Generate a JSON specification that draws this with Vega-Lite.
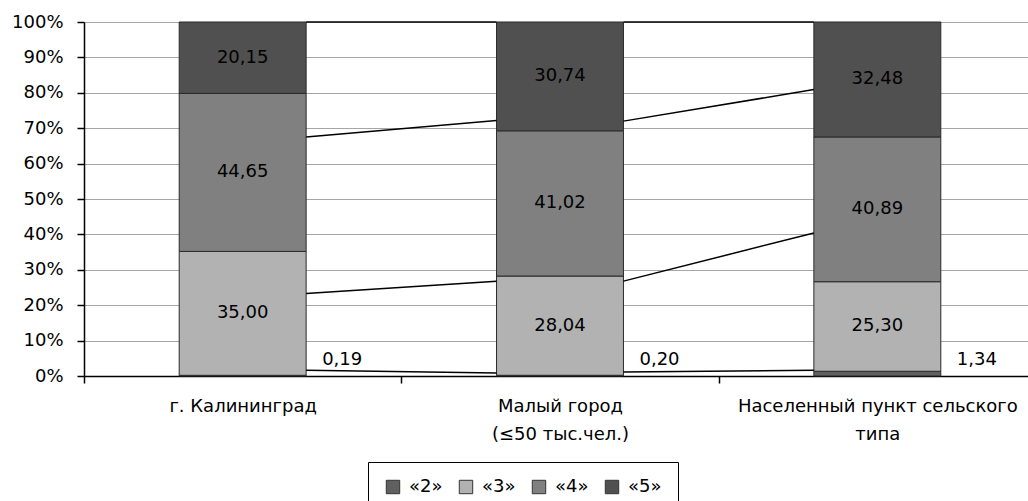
{
  "$schema": "https://vega.github.io/schema/vega-lite/v6.json",
  "autosize": {"type": "none"},
  "padding": {"left": 84, "top": 22, "right": 0, "bottom": 125},
  "width": 944,
  "height": 354,
  "background": "white",
  "config": {
    "locale": {"number": {"decimal": ",", "thousands": " ", "grouping": [3], "currency": ["", " ₽"]}},
    "view": {"stroke": null},
    "font": "DejaVu Sans",
    "axis": {"labelFont": "DejaVu Sans", "labelFontSize": 18, "labelColor": "#000", "domainColor": "#000", "domainWidth": 1.5, "tickColor": "#000", "tickWidth": 1.5, "tickSize": 7, "title": null, "labelOverlap": false, "labelLimit": 0},
    "axisY": {"tickCount": 20, "labelOverlap": false, "grid": true, "gridColor": "#a6a6a6", "gridWidth": 1, "labelPadding": 14, "format": ".0%"},
    "legend": {"labelFont": "DejaVu Sans", "labelFontSize": 18, "labelColor": "#000", "labelLimit": 0}
  },
  "datasets": {
    "main": [
      {"cat": "г. Калининград", "series": "«2»", "value": 0.19},
      {"cat": "г. Калининград", "series": "«3»", "value": 35.00},
      {"cat": "г. Калининград", "series": "«4»", "value": 44.65},
      {"cat": "г. Калининград", "series": "«5»", "value": 20.15},
      {"cat": "Малый город (≤50 тыс.чел.)", "series": "«2»", "value": 0.20},
      {"cat": "Малый город (≤50 тыс.чел.)", "series": "«3»", "value": 28.04},
      {"cat": "Малый город (≤50 тыс.чел.)", "series": "«4»", "value": 41.02},
      {"cat": "Малый город (≤50 тыс.чел.)", "series": "«5»", "value": 30.74},
      {"cat": "Населенный пункт сельского типа", "series": "«2»", "value": 1.34},
      {"cat": "Населенный пункт сельского типа", "series": "«3»", "value": 25.30},
      {"cat": "Населенный пункт сельского типа", "series": "«4»", "value": 40.89},
      {"cat": "Населенный пункт сельского типа", "series": "«5»", "value": 32.48}
    ],
    "lines": [
      {"from": "г. Калининград", "to": "Малый город (≤50 тыс.чел.)", "y_from": 1.0, "y_to": 1.0},
      {"from": "Малый город (≤50 тыс.чел.)", "to": "Населенный пункт сельского типа", "y_from": 1.0, "y_to": 1.0},
      {"from": "г. Калининград", "to": "Малый город (≤50 тыс.чел.)", "y_from": 0.675, "y_to": 0.722},
      {"from": "Малый город (≤50 тыс.чел.)", "to": "Населенный пункт сельского типа", "y_from": 0.720, "y_to": 0.809},
      {"from": "г. Калининград", "to": "Малый город (≤50 тыс.чел.)", "y_from": 0.233, "y_to": 0.268},
      {"from": "Малый город (≤50 тыс.чел.)", "to": "Населенный пункт сельского типа", "y_from": 0.268, "y_to": 0.404},
      {"from": "г. Калининград", "to": "Малый город (≤50 тыс.чел.)", "y_from": 0.016, "y_to": 0.0085},
      {"from": "Малый город (≤50 тыс.чел.)", "to": "Населенный пункт сельского типа", "y_from": 0.011, "y_to": 0.016}
    ]
  },
  "layer": [
    {
      "data": {"name": "main"},
      "transform": [
        {"stack": "value", "groupby": ["cat"], "sort": [{"field": "series", "order": "ascending"}], "offset": "normalize", "as": ["y0", "y1"]}
      ],
      "mark": {"type": "bar", "width": {"band": 0.4}, "stroke": "#2a2a2a", "strokeWidth": 1},
      "encoding": {
        "x": {
          "field": "cat", "type": "nominal",
          "scale": {"domain": ["г. Калининград", "Малый город (≤50 тыс.чел.)", "Населенный пункт сельского типа"], "paddingInner": 0, "paddingOuter": 0, "range": [0, 952]},
          "axis": {"labelAngle": 0, "tickBand": "extent", "labelPadding": 14, "labelLineHeight": 28,
                   "labelExpr": "datum.value == 'Малый город (≤50 тыс.чел.)' ? ['Малый город', '(≤50 тыс.чел.)'] : (datum.value == 'Населенный пункт сельского типа' ? ['Населенный пункт сельского', 'типа'] : datum.value)"}
        },
        "y": {
          "field": "y0", "type": "quantitative",
          "scale": {"domain": [0, 1], "nice": false},
          "axis": {"values": [0, 0.1, 0.2, 0.3, 0.4, 0.5, 0.6, 0.7, 0.8, 0.9, 1], "tickCount": 20}
        },
        "y2": {"field": "y1"},
        "color": {
          "field": "series", "type": "nominal",
          "scale": {"domain": ["«2»", "«3»", "«4»", "«5»"], "range": ["#606060", "#b2b2b2", "#808080", "#505050"]},
          "legend": {"orient": "none", "legendX": 284, "legendY": 440, "direction": "horizontal", "title": null,
                     "symbolType": "square", "symbolSize": 180, "symbolStrokeColor": "#333", "symbolStrokeWidth": 1,
                     "columnPadding": 14, "labelOffset": 7, "padding": 16, "strokeColor": "#000", "fillColor": "#fff"}
        }
      }
    },
    {
      "data": {"name": "main"},
      "transform": [
        {"stack": "value", "groupby": ["cat"], "sort": [{"field": "series", "order": "ascending"}], "offset": "normalize", "as": ["y0", "y1"]},
        {"calculate": "(datum.y0 + datum.y1) / 2", "as": "mid"},
        {"filter": "datum.series != '«2»'"}
      ],
      "mark": {"type": "text", "fontSize": 18, "font": "DejaVu Sans", "color": "#000", "baseline": "middle"},
      "encoding": {
        "x": {"field": "cat", "type": "nominal"},
        "y": {"field": "mid", "type": "quantitative"},
        "text": {"field": "value", "type": "quantitative", "format": ".2f"}
      }
    },
    {
      "data": {"name": "main"},
      "transform": [
        {"filter": "datum.series == '«2»'"}
      ],
      "mark": {"type": "text", "fontSize": 18, "font": "DejaVu Sans", "color": "#000", "baseline": "middle", "align": "left", "dx": 16, "dy": -12},
      "encoding": {
        "x": {"field": "cat", "type": "nominal", "bandPosition": 0.7},
        "y": {"datum": 0.012, "type": "quantitative"},
        "text": {"field": "value", "type": "quantitative", "format": ".2f"}
      }
    },
    {
      "data": {"name": "lines"},
      "mark": {"type": "rule", "color": "#000", "strokeWidth": 1.5},
      "encoding": {
        "x": {"field": "from", "type": "nominal", "bandPosition": 0.7},
        "x2": {"field": "to", "bandPosition": 0.3},
        "y": {"field": "y_from", "type": "quantitative"},
        "y2": {"field": "y_to"}
      }
    }
  ]
}
